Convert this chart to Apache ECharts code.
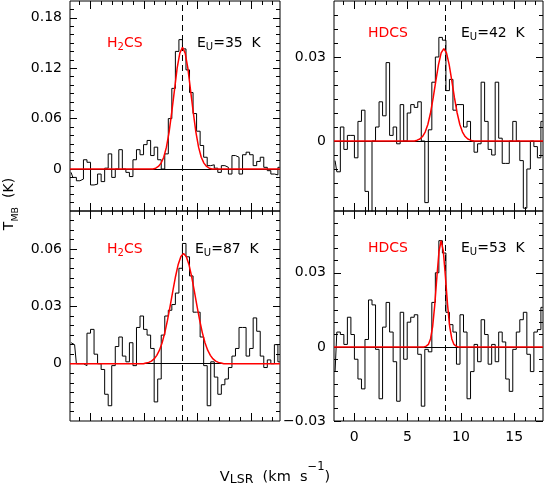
<!DOCTYPE html>
<html>
<head>
<meta charset="utf-8">
<script src="https://cdn.jsdelivr.net/npm/echarts@6/dist/echarts.min.js"></script>
<style>
  html, body { margin: 0; padding: 0; background: #fff; }
  #chart { width: 545px; height: 490px; }
</style>
</head>
<body>
<div id="chart"></div>
<script>
// channel centres (km/s), shared by the four spectra
const VEL = [
  -1.80, -1.47, -1.14, -0.81, -0.48, -0.15, 0.18, 0.51, 0.84, 1.17,
  1.50, 1.83, 2.16, 2.49, 2.82, 3.15, 3.48, 3.81, 4.14, 4.47,
  4.80, 5.13, 5.46, 5.79, 6.12, 6.45, 6.78, 7.11, 7.44, 7.77,
  8.10, 8.43, 8.76, 9.09, 9.42, 9.75, 10.08, 10.41, 10.74, 11.07,
  11.40, 11.73, 12.06, 12.39, 12.72, 13.05, 13.38, 13.71, 14.04, 14.37,
  14.70, 15.03, 15.36, 15.69, 16.02, 16.35, 16.68, 17.01, 17.34, 17.67,
];

// observed T_MB (K)
const H2CS_35_OBS = [
  -0.004, -0.010, -0.014, -0.012, 0.011, 0.008, -0.019, -0.018, -0.006, -0.015,
  0.001, 0.018, -0.010, 0.000, 0.023, 0.000, -0.004, -0.009, 0.011, 0.023,
  0.017, 0.029, 0.034, 0.016, 0.026, 0.011, 0.000, 0.018, 0.060, 0.096,
  0.140, 0.154, 0.143, 0.118, 0.091, 0.066, 0.045, 0.028, 0.014, 0.004,
  0.005, 0.001, -0.004, 0.004, 0.002, -0.006, 0.016, 0.014, -0.006, 0.017,
  0.020, 0.017, 0.004, 0.009, 0.014, 0.002, -0.002, -0.006, -0.007, 0.002,
];
const HDCS_42_OBS = [
  -0.007, -0.011, 0.005, -0.003, 0.002, 0.002, -0.006, 0.007, 0.011, -0.018,
  -0.030, 0.000, 0.005, 0.014, 0.009, 0.028, 0.002, 0.005, -0.001, 0.013,
  0.000, 0.010, 0.013, 0.012, 0.014, 0.000, -0.022, 0.004, 0.021, 0.030,
  0.037, 0.036, 0.018, 0.022, 0.011, 0.013, 0.013, 0.005, 0.007, 0.000,
  -0.004, -0.001, 0.021, 0.007, -0.003, -0.005, 0.021, 0.001, -0.008, -0.008,
  0.000, 0.007, 0.000, -0.007, -0.024, -0.010, 0.000, -0.002, -0.006, 0.007,
];
const H2CS_87_OBS = [
  0.011, 0.010, 0.000, 0.000, -0.001, 0.016, 0.018, 0.005, 0.000, -0.003,
  -0.016, -0.022, -0.001, 0.009, 0.014, 0.004, 0.001, 0.011, -0.001, 0.019,
  0.025, 0.018, 0.015, 0.008, -0.020, -0.008, 0.015, 0.025, 0.028, 0.031,
  0.037, 0.050, 0.063, 0.056, 0.046, 0.027, 0.027, 0.014, -0.001, -0.022,
  0.001, -0.007, -0.016, -0.011, -0.008, -0.002, 0.004, 0.008, 0.019, 0.019,
  0.004, 0.008, 0.024, 0.017, 0.004, -0.002, 0.002, 0.000, 0.010, 0.001,
];
const HDCS_53_OBS = [
  -0.010, 0.006, 0.005, 0.001, 0.012, 0.005, -0.005, -0.013, -0.017, 0.003,
  0.019, 0.017, -0.001, -0.021, 0.008, 0.018, 0.006, -0.006, -0.022, 0.014,
  -0.005, 0.010, 0.012, 0.013, -0.003, -0.024, -0.001, -0.002, 0.018, 0.030,
  0.043, 0.038, 0.014, 0.009, 0.006, -0.007, 0.013, 0.006, -0.021, -0.010,
  0.001, -0.006, 0.011, 0.005, -0.007, 0.001, -0.006, 0.006, 0.002, -0.013,
  -0.018, -0.001, 0.006, 0.011, 0.014, -0.003, -0.010, 0.006, 0.007, 0.016,
];

// gaussian fits
const H2CS_35_FIT_V = [-1.9, 5.85, 6.1, 6.35, 6.6, 6.85, 7.1, 7.35, 7.6, 7.85, 8.1, 8.35, 8.6,
  8.85, 9.1, 9.35, 9.6, 9.85, 10.1, 10.35, 10.6, 10.85, 11.1, 11.35, 17.7];
const H2CS_35_FIT_T = [0, 0, 0.001, 0.003, 0.007, 0.014, 0.026, 0.044, 0.068, 0.094, 0.120, 0.138, 0.145,
  0.138, 0.120, 0.094, 0.068, 0.044, 0.026, 0.014, 0.007, 0.003, 0.001, 0, 0];

const HDCS_42_FIT_V = [-1.9, 5.65, 5.9, 6.15, 6.4, 6.65, 6.9, 7.15, 7.4, 7.65, 7.9, 8.15, 8.4,
  8.65, 8.9, 9.15, 9.4, 9.65, 9.9, 10.15, 10.4, 10.65, 10.9, 11.15, 17.7];
const HDCS_42_FIT_T = [0, 0, 0.0003, 0.0007, 0.0016, 0.0032, 0.0059, 0.0100, 0.0154, 0.0215, 0.0273, 0.0315, 0.033,
  0.0315, 0.0273, 0.0215, 0.0154, 0.0100, 0.0059, 0.0032, 0.0016, 0.0007, 0.0003, 0, 0];

const H2CS_87_FIT_V = [-1.9, 4.95, 5.2, 5.45, 5.7, 5.95, 6.2, 6.45, 6.7, 6.95, 7.2, 7.45, 7.7, 7.95, 8.2, 8.45, 8.7,
  8.95, 9.2, 9.45, 9.7, 9.95, 10.2, 10.45, 10.7, 10.95, 11.2, 11.45, 11.7, 11.95, 12.2, 12.45, 17.7];
const H2CS_87_FIT_T = [0, 0, 0.0004, 0.0007, 0.0014, 0.0025, 0.0044, 0.0071, 0.0110, 0.0163, 0.0228, 0.0303, 0.0382,
  0.0457, 0.0520, 0.0562, 0.0577, 0.0562, 0.0520, 0.0457, 0.0382, 0.0303, 0.0228, 0.0163, 0.0110,
  0.0071, 0.0044, 0.0025, 0.0014, 0.0007, 0.0004, 0, 0];

const HDCS_53_FIT_V = [-1.9, 6.55, 6.75, 6.95, 7.15, 7.35, 7.55, 7.75, 7.95, 8.15,
  8.35, 8.55, 8.75, 8.95, 9.15, 9.35, 9.55, 9.75, 17.7];
const HDCS_53_FIT_T = [0, 0, 0.0003, 0.0010, 0.0032, 0.0082, 0.0170, 0.0284, 0.0388, 0.043,
  0.0388, 0.0284, 0.0170, 0.0082, 0.0032, 0.0010, 0.0003, 0, 0];

const V_SYS = 8.55;
const X_RANGE = [-1.9, 17.7];

// tick positions
const X_MINOR_TICKS = [-1, 0, 1, 2, 3, 4, 5, 6, 7, 8, 9, 10, 11, 12, 13, 14, 15, 16, 17];
const X_MAJOR_TICKS = [0, 5, 10, 15];
const Y_MINOR_H2CS_35 = [-0.04, -0.03, -0.02, -0.01, 0, 0.01, 0.02, 0.03, 0.04, 0.05, 0.06, 0.07, 0.08,
  0.09, 0.1, 0.11, 0.12, 0.13, 0.14, 0.15, 0.16, 0.17, 0.18, 0.19];
const Y_MINOR_HDCS_42 = [-0.02, -0.015, -0.01, -0.005, 0, 0.005, 0.01, 0.015, 0.02, 0.025, 0.03,
  0.035, 0.04, 0.045];
const Y_MINOR_H2CS_87 = [-0.025, -0.02, -0.015, -0.01, -0.005, 0, 0.005, 0.01, 0.015, 0.02, 0.025,
  0.03, 0.035, 0.04, 0.045, 0.05, 0.055, 0.06, 0.065, 0.07, 0.075];
const Y_MINOR_HDCS_53 = [-0.025, -0.02, -0.015, -0.01, -0.005, 0, 0.005, 0.01, 0.015, 0.02, 0.025,
  0.03, 0.035, 0.04, 0.045, 0.05];

const FONT = "'DejaVu Sans', sans-serif";
const RED = '#ff0000';

const panels = [
  {
    box: { left: 70, top: 1, width: 210, height: 210 },
    yRange: [-0.05, 0.2], yMinor: Y_MINOR_H2CS_35, yMajor: [0, 0.06, 0.12, 0.18],
    obs: H2CS_35_OBS, fitV: H2CS_35_FIT_V, fitT: H2CS_35_FIT_T, xLabels: false,
  },
  {
    box: { left: 334, top: 1, width: 209, height: 210 },
    yRange: [-0.025, 0.05], yMinor: Y_MINOR_HDCS_42, yMajor: [0, 0.03],
    obs: HDCS_42_OBS, fitV: HDCS_42_FIT_V, fitT: HDCS_42_FIT_T, xLabels: false,
  },
  {
    box: { left: 70, top: 211, width: 210, height: 210 },
    yRange: [-0.03, 0.08], yMinor: Y_MINOR_H2CS_87, yMajor: [0, 0.03, 0.06],
    obs: H2CS_87_OBS, fitV: H2CS_87_FIT_V, fitT: H2CS_87_FIT_T, xLabels: false,
  },
  {
    box: { left: 334, top: 211, width: 209, height: 210 },
    yRange: [-0.03, 0.055], yMinor: Y_MINOR_HDCS_53, yMajor: [-0.03, 0, 0.03],
    obs: HDCS_53_OBS, fitV: HDCS_53_FIT_V, fitT: HDCS_53_FIT_T, xLabels: true,
  },
];

function pairs(xs, ys) {
  return xs.map((x, i) => [x, ys[i]]);
}

function tickAxis(gridIndex, position, range, ticks, length, showLabels) {
  return {
    type: 'value',
    gridIndex,
    position,
    min: range[0],
    max: range[1],
    axisLine: { show: false, onZero: false },
    splitLine: { show: false },
    axisTick: {
      show: true, inside: true, length, customValues: ticks,
      lineStyle: { color: '#000', width: 1 },
    },
    axisLabel: showLabels
      ? {
          show: true, customValues: ticks, color: '#000', fontFamily: FONT, fontSize: 14,
          margin: position === 'bottom' ? 9 : 8,
          formatter: (v) => String(v).replace('-', '\u2212'),
        }
      : { show: false },
  };
}

function richLabel(color, subSize) {
  return {
    n: { fontFamily: FONT, fontSize: 14, lineHeight: 20, fill: color },
    s: { fontFamily: FONT, fontSize: subSize, lineHeight: 12, height: 12, verticalAlign: 'bottom', fill: color },
  };
}

function label(x, y, text, color) {
  return {
    type: 'text', x, y, silent: true,
    style: { text, rich: richLabel(color, 10), align: 'left', verticalAlign: 'middle' },
  };
}

const option = {
  animation: false,
  grid: [],
  xAxis: [],
  yAxis: [],
  series: [],
  graphic: [
    label(107, 43, '{n|H}{s|2}{n|CS}', RED),
    label(197, 43, '{n|E}{s|U}{n|=35  K}', '#000'),
    label(368, 33, '{n|HDCS}', RED),
    label(461, 33, '{n|E}{s|U}{n|=42  K}', '#000'),
    label(107, 249, '{n|H}{s|2}{n|CS}', RED),
    label(195, 249, '{n|E}{s|U}{n|=87  K}', '#000'),
    label(368, 248, '{n|HDCS}', RED),
    label(461, 248, '{n|E}{s|U}{n|=53  K}', '#000'),
    {
      type: 'text', x: 9, y: 204, rotation: Math.PI / 2, silent: true,
      style: {
        text: '{n|T}{s|MB}{n|  (K)}', align: 'center', verticalAlign: 'middle',
        rich: {
          n: { fontFamily: FONT, fontSize: 14, lineHeight: 20, fill: '#000' },
          s: { fontFamily: FONT, fontSize: 9.5, lineHeight: 6, height: 6, verticalAlign: 'bottom', fill: '#000' },
        },
      },
    },
    {
      type: 'text', x: 275, y: 477, silent: true,
      style: {
        text: '{n|V}{s|LSR}{n|  (km  s}{p|\u22121}{n|)}', align: 'center', verticalAlign: 'middle',
        rich: {
          n: { fontFamily: FONT, fontSize: 14.5, lineHeight: 30, fill: '#000' },
          s: { fontFamily: FONT, fontSize: 12.5, lineHeight: 24, height: 24, verticalAlign: 'bottom', fill: '#000' },
          p: { fontFamily: FONT, fontSize: 11.5, lineHeight: 10, height: 10, verticalAlign: 'top', fill: '#000' },
        },
      },
    },
  ],
};

panels.forEach((p, g) => {
  option.grid.push({ ...p.box, show: true, borderColor: '#000', borderWidth: 1, backgroundColor: 'transparent' });
  const xi = option.xAxis.length;
  const yi = option.yAxis.length;
  ['bottom', 'top'].forEach((pos) => {
    option.xAxis.push(tickAxis(g, pos, X_RANGE, X_MINOR_TICKS, 4, false));
    option.xAxis.push(tickAxis(g, pos, X_RANGE, X_MAJOR_TICKS, 8, p.xLabels && pos === 'bottom'));
  });
  ['left', 'right'].forEach((pos) => {
    option.yAxis.push(tickAxis(g, pos, p.yRange, p.yMinor, 4, false));
    option.yAxis.push(tickAxis(g, pos, p.yRange, p.yMajor, 7, pos === 'left'));
  });
  option.series.push({
    type: 'line', xAxisIndex: xi, yAxisIndex: yi, z: 2,
    data: pairs(VEL, p.obs), step: 'middle', symbol: 'none', clip: true,
    lineStyle: { color: '#000', width: 1 },
    markLine: {
      silent: true, symbol: 'none', animation: false,
      label: { show: false },
      data: [
        { yAxis: 0, lineStyle: { color: '#000', width: 1, type: 'solid' } },
        { xAxis: V_SYS, lineStyle: { color: '#000', width: 1, type: [6, 4] } },
      ],
    },
  });
  option.series.push({
    type: 'line', xAxisIndex: xi, yAxisIndex: yi, z: 5,
    data: pairs(p.fitV, p.fitT), symbol: 'none', clip: true,
    lineStyle: { color: RED, width: 1.5 },
  });
});

const chart = echarts.init(document.getElementById('chart'));
chart.setOption(option);
</script>
</body>
</html>
